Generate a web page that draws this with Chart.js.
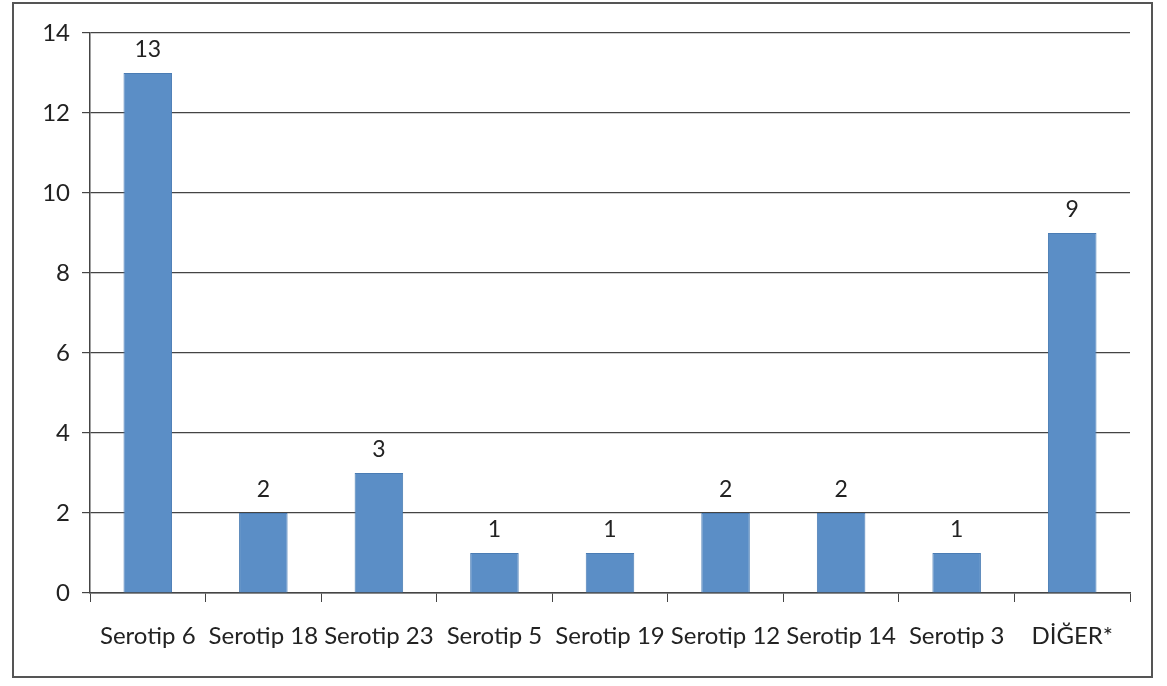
<!DOCTYPE html>
<html>
<head>
<meta charset="utf-8">
<script src="https://cdn.jsdelivr.net/npm/chart.js@4"></script>
<style>
  html, body { margin: 0; padding: 0; background: #fff; }
  #wrap { position: relative; width: 1167px; height: 686px; }
  #frame {
    position: absolute; left: 12px; top: 2px; width: 1141px; height: 676px;
    border: 2px solid #555; box-sizing: border-box;
  }
  canvas { position: absolute; left: 0; top: 0; }
</style>
</head>
<body>
<div id="wrap">
  <div id="frame"></div>
  <canvas id="myChart" width="1167" height="686"></canvas>
</div>
<script>
const categories = ['Serotip 6', 'Serotip 18', 'Serotip 23', 'Serotip 5', 'Serotip 19',
  'Serotip 12', 'Serotip 14', 'Serotip 3', 'DİĞER*'];
const counts = [13, 2, 3, 1, 1, 2, 2, 1, 9];
const yTicks = [0, 2, 4, 6, 8, 10, 12, 14];

const fontName = 'Lato, "Open Sans", sans-serif';

// numbers above each bar
const valueLabels = {
  id: 'valueLabels',
  afterDatasetsDraw(chart) {
    const ctx = chart.ctx;
    const meta = chart.getDatasetMeta(0);
    ctx.save();
    ctx.font = '23px ' + fontName;
    ctx.fillStyle = '#222';
    ctx.textAlign = 'center';
    ctx.textBaseline = 'bottom';
    meta.data.forEach((bar, i) => {
      ctx.fillText(String(counts[i]), bar.x, bar.y - 12);
    });
    ctx.restore();
  }
};

const ctx = document.getElementById('myChart');

new Chart(ctx, {
  type: 'bar',
  data: {
    labels: categories,
    datasets: [{
      data: counts,
      backgroundColor: '#5b8ec6',
      borderColor: '#4a7cb4',
      borderWidth: 1,
      categoryPercentage: 1,
      barPercentage: 0.42
    }]
  },
  options: {
    responsive: false,
    animation: false,
    layout: { padding: { top: 33, right: 37, left: 0, bottom: 0 } },
    plugins: {
      legend: { display: false },
      tooltip: { enabled: false }
    },
    scales: {
      x: {
        afterFit: (s) => { s.height = 93; },
        grid: {
          offset: true,
          drawOnChartArea: false,
          drawTicks: true,
          tickLength: 9,
          color: '#444'
        },
        border: { color: '#444', width: 1.5 },
        ticks: {
          color: '#222',
          padding: 20,
          autoSkip: false,
          maxRotation: 0,
          font: { size: 24, family: fontName }
        }
      },
      y: {
        min: 0,
        max: 14,
        afterFit: (s) => { s.width = 90; },
        afterBuildTicks: (s) => { s.ticks = yTicks.map(v => ({ value: v })); },
        grid: {
          color: '#444',
          lineWidth: 1.2,
          tickLength: 8
        },
        border: { color: '#444', width: 1.5 },
        ticks: {
          color: '#222',
          padding: 12,
          font: { size: 24, family: fontName }
        }
      }
    }
  },
  plugins: [valueLabels]
});
</script>
</body>
</html>
